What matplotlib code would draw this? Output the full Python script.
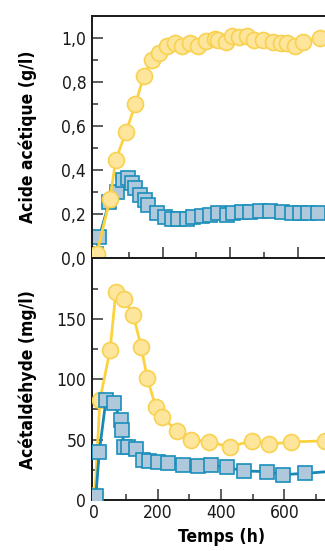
import matplotlib
matplotlib.use("Agg")
import matplotlib.pyplot as plt
from matplotlib.ticker import FixedLocator, FuncFormatter

# acide acetique (g/l), yellow circles
acetic_yellow_t = [6, 45, 62, 92, 120, 145, 168, 190, 212, 238, 258, 281, 305,
                   327, 355, 363, 387, 404, 425, 448, 471, 497, 527, 549, 568,
                   591, 615, 664, 720]
acetic_yellow_v = [0.02, 0.27, 0.446, 0.572, 0.70, 0.828, 0.90, 0.933, 0.964,
                   0.976, 0.961, 0.976, 0.964, 0.986, 0.994, 0.991, 0.983,
                   1.009, 1.003, 1.006, 0.988, 0.988, 0.979, 0.976, 0.976,
                   0.961, 0.983, 0.999, 1.0]

# acide acetique (g/l), blue squares
acetic_blue_t = [3, 13, 43, 65, 82, 99, 109, 119, 133, 148, 158, 183, 207, 227,
                 246, 271, 291, 315, 340, 364, 389, 409, 433, 458, 487, 517,
                 551, 581, 605, 630, 659, 720]
acetic_blue_v = [0.02, 0.095, 0.257, 0.302, 0.355, 0.363, 0.34, 0.318, 0.287,
                 0.265, 0.242, 0.204, 0.186, 0.177, 0.18, 0.177, 0.189, 0.192,
                 0.197, 0.204, 0.197, 0.207, 0.212, 0.212, 0.216, 0.216, 0.212,
                 0.207, 0.204, 0.204, 0.204, 0.204]

# acetaldehyde (mg/l), yellow circles
ald_yellow_t = [2, 18, 50, 68, 94, 123, 148, 167, 194, 215, 260, 305, 363, 428,
                497, 550, 620, 729]
ald_yellow_v = [4, 83, 124, 172, 166, 153, 127, 101, 77, 69, 57, 50, 48, 44,
                49, 46, 48, 49]

# acetaldehyde (mg/l), blue squares
ald_blue_t = [5, 16, 37, 63, 83, 88, 94, 105, 132, 153, 173, 200, 233, 281, 328,
              368, 418, 473, 544, 594, 665, 760]
ald_blue_v = [3, 40, 83, 80, 66, 58, 44, 44, 42, 33, 32, 31.5, 31, 29, 28, 29,
              27, 24, 23.5, 21, 22, 24]

x_major = [0, 200, 400, 600]
x_minor = [100, 300, 500, 700]
acetic_major = [0.0, 0.2, 0.4, 0.6, 0.8, 1.0]
acetic_minor = [0.1, 0.3, 0.5, 0.7, 0.9]
ald_major = [0, 50, 100, 150]
ald_minor = [25, 75, 125, 175]

YELLOW_LINE = "#fcd33f"
YELLOW_FACE = "#fde59c"
YELLOW_EDGE = "#f9d150"
BLUE_LINE = "#1a88b4"
BLUE_FACE = "#b0c8dc"
BLUE_EDGE = "#1a8fbc"
INK = "#1a1a1a"

plt.rcParams["font.family"] = ["DejaVu Sans"]
plt.rcParams["font.stretch"] = "condensed"
plt.rcParams["font.size"] = 12.5

comma = FuncFormatter(lambda v, _: f"{v:.1f}".replace(".", ","))


def style_axes(ax):
    for side in ax.spines.values():
        side.set_linewidth(1.4)
        side.set_color(INK)
    ax.tick_params(which="both", direction="in", color="#333333", width=1.1,
                   labelsize=12.5, labelcolor=INK, pad=4)
    ax.tick_params(which="major", length=8)
    ax.tick_params(which="minor", length=4)
    ax.xaxis.set_major_locator(FixedLocator(x_major))
    ax.xaxis.set_minor_locator(FixedLocator(x_minor))


def yellow(ax, t, v):
    ax.plot(t, v, color=YELLOW_LINE, lw=2, marker="o", ms=11.5,
            mfc=YELLOW_FACE, mec=YELLOW_EDGE, mew=1.2, zorder=3)


def blue(ax, t, v, z):
    ax.plot(t, v, color=BLUE_LINE, lw=2, marker="s", ms=9.5,
            mfc=BLUE_FACE, mec=BLUE_EDGE, mew=1.2, zorder=z)


fig = plt.figure(figsize=(3.25, 5.51), dpi=100)
right = 352 / 325
left = 91.7 / 325
ax_top = fig.add_axes([left, 1 - 258.3 / 551, right - left, (258.3 - 15.7) / 551])
ax_bot = fig.add_axes([left, 1 - 500 / 551, right - left, (500 - 258.3) / 551])

blue(ax_top, acetic_blue_t, acetic_blue_v, 2)
yellow(ax_top, acetic_yellow_t, acetic_yellow_v)
ax_top.set_xlim(-9, 759)
ax_top.set_ylim(0, 1.1)
style_axes(ax_top)
ax_top.yaxis.set_major_locator(FixedLocator(acetic_major))
ax_top.yaxis.set_minor_locator(FixedLocator(acetic_minor))
ax_top.yaxis.set_major_formatter(comma)
ax_top.tick_params(axis="x", labelbottom=False)
ax_top.set_ylabel("Acide acétique (g/l)", fontweight="bold", fontsize=12.5)

yellow(ax_bot, ald_yellow_t, ald_yellow_v)
blue(ax_bot, ald_blue_t, ald_blue_v, 4)
ax_bot.set_xlim(-8, 813)
ax_bot.set_ylim(0, 200)
style_axes(ax_bot)
ax_bot.yaxis.set_major_locator(FixedLocator(ald_major))
ax_bot.yaxis.set_minor_locator(FixedLocator(ald_minor))
ax_bot.set_ylabel("Acétaldéhyde (mg/l)", fontweight="bold", fontsize=12.5)
ax_bot.set_xlabel("Temps (h)", fontweight="bold", fontsize=12.5, labelpad=4)
ax_bot.tick_params(axis="x", pad=3)

ax_top.yaxis.set_label_coords(-0.21, 0.5)
ax_bot.yaxis.set_label_coords(-0.21, 0.5)

fig.savefig("out.png", dpi=100)
